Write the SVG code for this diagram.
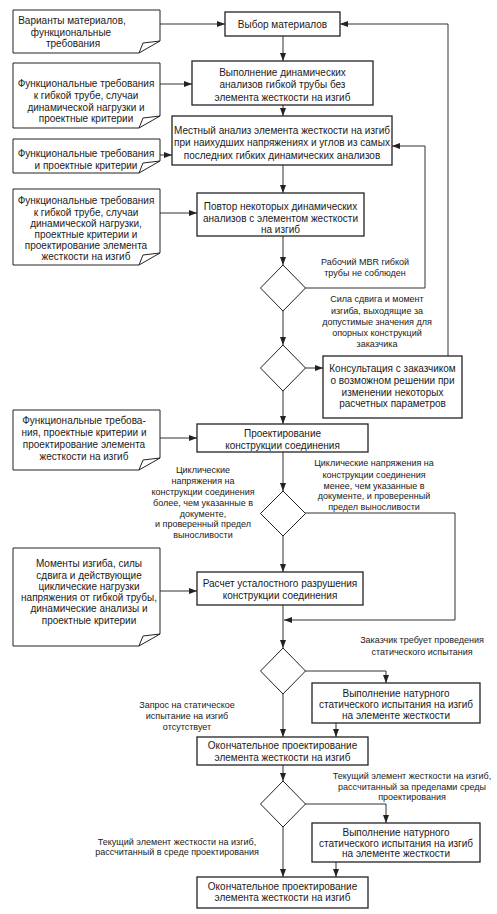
<svg xmlns="http://www.w3.org/2000/svg" width="497" height="914" viewBox="0 0 497 914">
<defs>
<marker id="ah" viewBox="0 0 8 6" refX="8" refY="3" markerWidth="8" markerHeight="6" markerUnits="userSpaceOnUse" orient="auto">
<path d="M0,0 L8,3 L0,6 Z" fill="#222"/>
</marker>
</defs>
<style>
.box{fill:#fff;stroke:#222;stroke-width:1.3}
.doc{fill:#fff;stroke:#222;stroke-width:1}
.dia{fill:#fff;stroke:#222;stroke-width:1}
.c{fill:none;stroke:#333;stroke-width:1}
.a{marker-end:url(#ah)}
text{font-family:"Liberation Sans",Arial,sans-serif;fill:#1a1a1a;text-anchor:middle}
.t{font-size:10px}
.l{font-size:9px}
</style>
<rect width="497" height="914" fill="#fff"/>

<g id="connectors">
<path class="c a" d="M160,24 H225"/>
<path class="c a" d="M448,356 V24 H340"/>
<path class="c a" d="M283,36 V61"/>
<path class="c a" d="M160,84 H192"/>
<path class="c a" d="M283,105 V116"/>
<path class="c a" d="M160,155 H172"/>
<path class="c a" d="M283,165 V193"/>
<path class="c a" d="M160,213 H197"/>
<path class="c a" d="M283,236 V265"/>
<path class="c a" d="M305,288 H425 V146 H392"/>
<path class="c a" d="M283,311 V345"/>
<path class="c a" d="M305,368 H323"/>
<path class="c a" d="M283,391 V424"/>
<path class="c a" d="M160,438 H197"/>
<path class="c a" d="M283,452 V491"/>
<path class="c a" d="M283,536 V572"/>
<path class="c a" d="M305,513 H455 V620 H284"/>
<path class="c a" d="M160,591 H197"/>
<path class="c a" d="M283,605 V648"/>
<path class="c a" d="M305,671 H386 V683"/>
<path class="c a" d="M283,694 V737"/>
<path class="c a" d="M336,723 V737"/>
<path class="c a" d="M283,765 V781"/>
<path class="c a" d="M305,804 H386 V823"/>
<path class="c a" d="M283,827 V877"/>
<path class="c a" d="M336,862 V877"/>
</g>

<g id="doc1">
<path class="doc" d="M13,10 H160 V41 L139,53 H13 Z M139,53 L143,43 L160,41"/>
<text class="t" x="72" y="23.5">Варианты материалов,</text>
<text class="t" x="71" y="35.5">функциональные</text>
<text class="t" x="73" y="47">требования</text>
</g>

<g id="doc2">
<path class="doc" d="M13,63 H160 V116 L139,128 H13 Z M139,128 L143,118 L160,116"/>
<text class="t" x="86" y="86.5">Функциональные требования</text>
<text class="t" x="86" y="98.5">к гибкой трубе, случаи</text>
<text class="t" x="86" y="110.5">динамической нагрузки и</text>
<text class="t" x="86" y="122">проектные критерии</text>
</g>

<g id="doc3">
<path class="doc" d="M13,139 H160 V161 L139,173 H13 Z M139,173 L143,163 L160,161"/>
<text class="t" x="86" y="157">Функциональные требования</text>
<text class="t" x="86" y="168.5">и проектные критерии</text>
</g>

<g id="doc6">
<path class="doc" d="M13,189 H160 V253 L139,265 H13 Z M139,265 L143,255 L160,253"/>
<text class="t" x="86" y="204">Функциональные требования</text>
<text class="t" x="86" y="215.5">к гибкой трубе, случаи</text>
<text class="t" x="86" y="227">динамической нагрузки,</text>
<text class="t" x="86" y="238">проектные критерии и</text>
<text class="t" x="86" y="249">проектирование элемента</text>
<text class="t" x="86" y="260">жесткости на изгиб</text>
</g>

<g id="doc4">
<path class="doc" d="M13,410 H160 V458 L139,470 H13 Z M139,470 L143,460 L160,458"/>
<text class="t" x="84" y="423.5">Функциональные требова-</text>
<text class="t" x="84" y="435.5">ния, проектные критерии и</text>
<text class="t" x="84" y="447.5">проектирование элемента</text>
<text class="t" x="84" y="459.5">жесткости на изгиб</text>
</g>

<g id="doc5">
<path class="doc" d="M13,548 H160 V634 L139,646 H13 Z M139,646 L143,636 L160,634"/>
<text class="t" x="89" y="566.5">Моменты изгиба, силы</text>
<text class="t" x="89" y="578.5">сдвига и действующие</text>
<text class="t" x="89" y="590">циклические нагрузки</text>
<text class="t" x="89" y="601">напряжения от гибкой трубы,</text>
<text class="t" x="89" y="612">динамические анализы и</text>
<text class="t" x="89" y="623.5">проектные критерии</text>
</g>

<g id="box1">
<rect class="box" x="225" y="12" width="115" height="24"/>
<text class="t" x="282.5" y="27.5">Выбор материалов</text>
</g>

<g id="box2">
<rect class="box" x="192" y="61" width="181" height="44"/>
<text class="t" x="282.5" y="75.5">Выполнение динамических</text>
<text class="t" x="282.5" y="88">анализов гибкой трубы без</text>
<text class="t" x="282.5" y="100.5">элемента жесткости на изгиб</text>
</g>

<g id="box3">
<rect class="box" x="172" y="116" width="220" height="49"/>
<text class="t" x="282" y="133.5">Местный анализ элемента жесткости на изгиб</text>
<text class="t" x="282" y="146">при наихудших напряжениях и углов из самых</text>
<text class="t" x="282" y="158.5">последних гибких динамических анализов</text>
</g>

<g id="box4">
<rect class="box" x="197" y="193" width="167" height="43"/>
<text class="t" x="280.5" y="210">Повтор некоторых динамических</text>
<text class="t" x="280.5" y="221.5">анализов с элементом жесткости</text>
<text class="t" x="280.5" y="233">на изгиб</text>
</g>

<g id="dia1">
<path class="dia" d="M283,265 L305.5,288 L283,311 L260.5,288 Z"/>
</g>

<g id="lbl1">
<text class="l" x="365" y="264.5">Рабочий MBR гибкой</text>
<text class="l" x="365" y="275.5">трубы не соблюден</text>
</g>

<g id="lbl2">
<text class="l" x="377" y="302">Сила сдвига и момент</text>
<text class="l" x="377" y="313.5">изгиба, выходящие за</text>
<text class="l" x="377" y="325">допустимые значения для</text>
<text class="l" x="377" y="336">опорных конструкций</text>
<text class="l" x="377" y="347">заказчика</text>
</g>

<g id="dia2">
<path class="dia" d="M283,345 L305.5,368 L283,391 L260.5,368 Z"/>
</g>

<g id="box_consult">
<rect class="box" x="323" y="356" width="139" height="62"/>
<text class="t" x="392.5" y="371.5">Консультация с заказчиком</text>
<text class="t" x="392.5" y="383.5">о возможном решении при</text>
<text class="t" x="392.5" y="395.5">изменении некоторых</text>
<text class="t" x="392.5" y="407">расчетных параметров</text>
</g>

<g id="box5">
<rect class="box" x="197" y="424" width="171" height="28"/>
<text class="t" x="282.5" y="436.5">Проектирование</text>
<text class="t" x="282.5" y="448.5">конструкции соединения</text>
</g>

<g id="lbl3">
<text class="l" x="203" y="473">Циклические</text>
<text class="l" x="203" y="484">напряжения на</text>
<text class="l" x="203" y="495">конструкции соединения</text>
<text class="l" x="203" y="506">более, чем указанные в</text>
<text class="l" x="203" y="516.5">документе,</text>
<text class="l" x="203" y="527">и проверенный предел</text>
<text class="l" x="203" y="537.5">выносливости</text>
</g>

<g id="lbl4">
<text class="l" x="374" y="466">Циклические напряжения на</text>
<text class="l" x="374" y="477.5">конструкции соединения</text>
<text class="l" x="374" y="488.5">менее, чем указанные в</text>
<text class="l" x="374" y="499">документе, и проверенный</text>
<text class="l" x="374" y="510">предел выносливости</text>
</g>

<g id="dia3">
<path class="dia" d="M283,491 L305.5,513.5 L283,536 L260.5,513.5 Z"/>
</g>

<g id="box6">
<rect class="box" x="197" y="572" width="166" height="33"/>
<text class="t" x="280" y="586.5">Расчет усталостного разрушения</text>
<text class="t" x="280" y="598.5">конструкции соединения</text>
</g>

<g id="lbl5">
<text class="l" x="422" y="643">Заказчик требует проведения</text>
<text class="l" x="422" y="655">статического испытания</text>
</g>

<g id="dia4">
<path class="dia" d="M283,648 L305.5,671 L283,694 L260.5,671 Z"/>
</g>

<g id="box7">
<rect class="box" x="312" y="683" width="168" height="40"/>
<text class="t" x="396" y="696.5">Выполнение натурного</text>
<text class="t" x="396" y="708">статического испытания на изгиб</text>
<text class="t" x="396" y="719">на элементе жесткости</text>
</g>

<g id="lbl6">
<text class="l" x="187" y="708">Запрос на статическое</text>
<text class="l" x="187" y="719">испытание на изгиб</text>
<text class="l" x="187" y="730">отсутствует</text>
</g>

<g id="box8">
<rect class="box" x="197" y="737" width="171" height="28"/>
<text class="t" x="282.5" y="748.5">Окончательное проектирование</text>
<text class="t" x="282.5" y="760.5">элемента жесткости на изгиб</text>
</g>

<g id="lbl7">
<text class="l" x="412" y="779">Текущий элемент жесткости на изгиб,</text>
<text class="l" x="412" y="789.5">рассчитанный за пределами среды</text>
<text class="l" x="412" y="800">проектирования</text>
</g>

<g id="dia5">
<path class="dia" d="M283,781 L305.5,804 L283,827 L260.5,804 Z"/>
</g>

<g id="box9">
<rect class="box" x="312" y="823" width="168" height="39"/>
<text class="t" x="396" y="835.5">Выполнение натурного</text>
<text class="t" x="396" y="846.5">статического испытания на изгиб</text>
<text class="t" x="396" y="857">на элементе жесткости</text>
</g>

<g id="lbl8">
<text class="l" x="177" y="845">Текущий элемент жесткости на изгиб,</text>
<text class="l" x="177" y="855">рассчитанный в среде проектирования</text>
</g>

<g id="box10">
<rect class="box" x="197" y="877" width="171" height="31"/>
<text class="t" x="282.5" y="889.5">Окончательное проектирование</text>
<text class="t" x="282.5" y="900.5">элемента жесткости на изгиб</text>
</g>
</svg>
